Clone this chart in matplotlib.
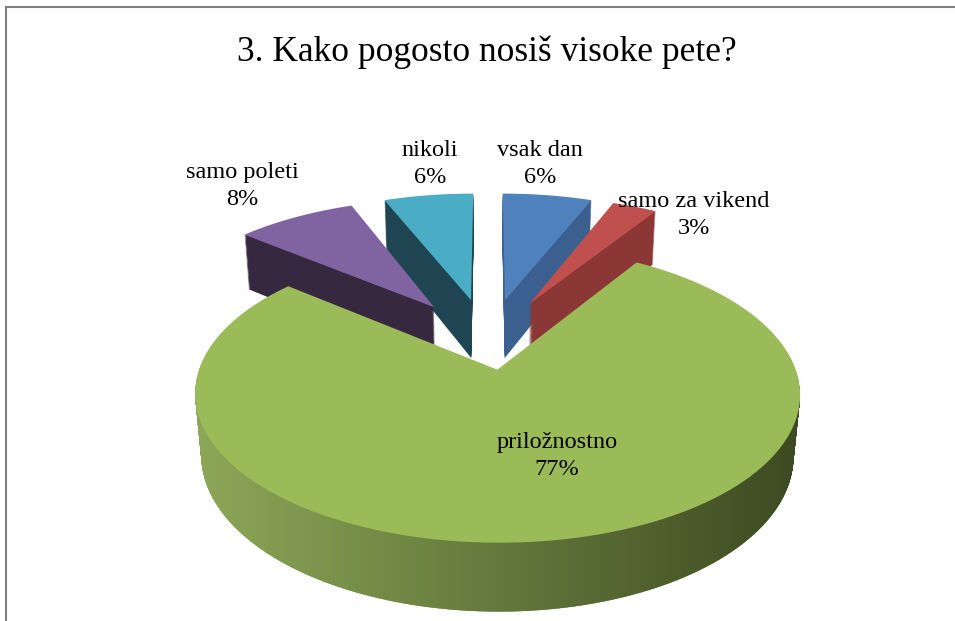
import numpy as np
import matplotlib
matplotlib.use('Agg')
import matplotlib.pyplot as plt
from matplotlib.transforms import Transform
from matplotlib.path import Path
from matplotlib.lines import Line2D

# ---------------- data ----------------
categories = ['vsak dan', 'samo za vikend', 'priložnostno', 'samo poleti', 'nikoli']
values = [6, 3, 77, 8, 6]
title = '3. Kako pogosto nosiš visoke pete?'

# ---------------- style ----------------
top_colors = ['#4f81bd', '#c0504d', '#9bbb59', '#8064a2', '#4bacc6']
side_colors = ['#3b6090', '#8a3736', '#6b8a3e', '#35283f', '#1f4552']
explode = [0.33, 0.33, 0.2, 0.33, 0.33]
label_pos = [(540, 164), (694, 215), (557, 456), (242, 186), (430, 164)]  # image px

W, H = 955, 621
PHI = np.radians(28)
SP, CP = np.sin(PHI), np.cos(PHI)
DIST = 5.55
FOC = 1604
CX, CY = 488, H - 342
THICK = 0.24
NLAYERS = 50


def flatten(path, n=10):
    pts = []
    for seg, code in path.iter_bezier():
        cp = seg.control_points
        if code == Path.MOVETO:
            pts.append(cp[0])
            continue
        t = np.linspace(0, 1, n + 1)[1:]
        pts.extend(seg(t))
    return np.array(pts)


class Persp(Transform):
    input_dims = output_dims = 2
    is_separable = False
    has_inverse = False

    def __init__(self, z):
        super().__init__()
        self.z = z

    def transform_non_affine(self, values):
        v = np.asarray(values, float).reshape(-1, 2)
        x, y = v[:, 0], v[:, 1]
        depth = DIST + y * CP - self.z * SP
        return np.column_stack([CX + FOC * x / depth,
                                CY + FOC * (y * SP + self.z * CP) / depth])

    def transform_path_non_affine(self, path):
        return Path(self.transform_non_affine(flatten(path)))


fig = plt.figure(figsize=(W / 100, H / 100), dpi=100)
ax = fig.add_axes([0, 0, 1, 1])

green_paths = []
for z in np.linspace(-THICK, 0, NLAYERS, endpoint=False):
    wedges, _ = ax.pie(values, explode=explode, startangle=90, counterclock=False,
                       colors=side_colors, wedgeprops=dict(linewidth=0))
    for i, w in enumerate(wedges):
        tr = Persp(z)
        w.set_transform(tr + ax.transData)
        w.set_zorder(1)
        if i == 2:
            green_paths.append(tr.transform_path(w.get_path()))

wedges, _ = ax.pie(values, explode=explode, startangle=90, counterclock=False,
                   colors=top_colors, wedgeprops=dict(linewidth=0))
for w in wedges:
    w.set_transform(Persp(0.0) + ax.transData)
    w.set_zorder(3)

# gradient on the green side wall
light = np.array([142, 168, 88]) / 255
dark = np.array([58, 72, 32]) / 255
tt = np.linspace(0, 1, 256)[:, None]
grad = (light * (1 - tt) + dark * tt)[None, :, :]
im = ax.imshow(grad, extent=(190, 815, 0, H), aspect='auto', zorder=2,
               interpolation='bilinear')
im.set_clip_path(Path.make_compound_path(*green_paths), ax.transData)

ax.set_xlim(0, W)
ax.set_ylim(0, H)
ax.set_aspect('auto')
ax.axis('off')

serif = ['Liberation Serif', 'DejaVu Serif']
for cat, val, (lx, ly) in zip(categories, values, label_pos):
    ax.text(lx, H - ly, f'{cat}\n{val}%', ha='center', va='center',
            multialignment='center', fontsize=17.5, family=serif,
            linespacing=1.4, zorder=5)

fig.text(487 / W, 1 - 52 / H, title, ha='center', va='center',
         fontsize=25.5, family=serif)

fig.add_artist(Line2D([6 / W, 1], [1 - 7 / H, 1 - 7 / H], color='#808080', lw=1.5,
                      transform=fig.transFigure))
fig.add_artist(Line2D([6 / W, 6 / W], [0, 1 - 7 / H], color='#808080', lw=1.5,
                      transform=fig.transFigure))

fig.savefig('out.png', dpi=100)
